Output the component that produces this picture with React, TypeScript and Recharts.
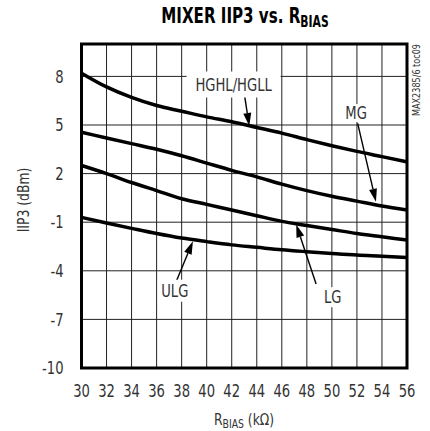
import React from 'react';
import { LineChart, Line, XAxis, YAxis, CartesianGrid, ReferenceArea, ReferenceDot, ReferenceLine } from 'recharts';

const rBias = [30, 32, 34, 36, 38, 40, 42, 44, 46, 48, 50, 52, 54, 56];
const hghlHgll = [8.2, 7.35, 6.7, 6.2, 5.85, 5.5, 5.2, 4.85, 4.5, 4.1, 3.72, 3.37, 3.05, 2.72];
const mg = [4.55, 4.2, 3.85, 3.5, 3.1, 2.65, 2.2, 1.8, 1.35, 0.95, 0.6, 0.3, 0.0, -0.25];
const lg = [2.5, 2.0, 1.45, 0.95, 0.45, 0.1, -0.25, -0.6, -0.95, -1.2, -1.45, -1.7, -1.9, -2.1];
const ulg = [-0.7, -1.05, -1.38, -1.7, -1.98, -2.2, -2.4, -2.55, -2.7, -2.82, -2.93, -3.03, -3.1, -3.18];

const xTicks = [30, 32, 34, 36, 38, 40, 42, 44, 46, 48, 50, 52, 54, 56];
const yTicks = [-10, -7, -4, -1, 2, 5, 8];

const labelNames = ['HGHL/HGLL', 'MG', 'LG', 'ULG'];
const labelR = [42.15, 51.93, 50.07, 37.45];
const labelV = [7.5, 5.74, -5.63, -5.23];
const labelBoxW = [94, 30, 24, 34];
const labelBoxH = [26, 18, 20, 22];

const arrowFromR = [43.0, 52.06, 48.74, 37.59];
const arrowFromV = [6.94, 5.1, -4.82, -4.61];
const arrowToR = [43.4, 53.52, 47.15, 38.9];
const arrowToV = [4.94, 0.26, -1.14, -2.17];

const data = rBias.map((r, i) => ({ r, hghl: hghlHgll[i], mg: mg[i], lg: lg[i], ulg: ulg[i] }));

const FONT = '"Liberation Sans Narrow", "DejaVu Sans Condensed", "Arial Narrow", sans-serif';
const SQUEEZE = 0.86;

const makeLabel = (text: string, w: number, h: number) => (props: any) => {
  const { cx, cy } = props;
  return (
    <g>
      <rect x={cx - w / 2} y={cy - h / 2} width={w} height={h} fill="#fff" />
      <g transform={`translate(${cx},${cy}) scale(${SQUEEZE},1)`}>
        <text x={0} y={0} textAnchor="middle" dy="0.36em" fontFamily={FONT} fontSize={17} fill="#333">
          {text}
        </text>
      </g>
    </g>
  );
};

const XTick = (props: any) => {
  const { x, y, payload } = props;
  return (
    <g transform={`translate(${x},${y}) scale(${SQUEEZE},1)`}>
      <text x={0} y={0} dy="0.71em" textAnchor="middle" fontFamily={FONT} fontSize={17} fill="#333">
        {payload.value}
      </text>
    </g>
  );
};

const YTick = (props: any) => {
  const { x, y, payload } = props;
  return (
    <g transform={`translate(${x},${y}) scale(${SQUEEZE},1)`}>
      <text x={0} y={0} dy="0.36em" textAnchor="end" fontFamily={FONT} fontSize={17} fill="#333">
        {payload.value}
      </text>
    </g>
  );
};

const ArrowShape = (props: any) => {
  const { x1, y1, x2, y2 } = props;
  const dx = x2 - x1;
  const dy = y2 - y1;
  const len = Math.hypot(dx, dy) || 1;
  const ux = dx / len;
  const uy = dy / len;
  const hl = 13;
  const hw = 4;
  const bx = x2 - ux * hl;
  const by = y2 - uy * hl;
  return (
    <g>
      <line x1={x1} y1={y1} x2={bx} y2={by} stroke="#000" strokeWidth={1.4} />
      <polygon points={`${x2},${y2} ${bx - uy * hw},${by + ux * hw} ${bx + uy * hw},${by - ux * hw}`} fill="#000" />
    </g>
  );
};

export default function App() {
  return (
    <div style={{ position: 'absolute', left: 0, top: 0, width: 430, height: 431, background: '#fff' }}>
      <LineChart width={430} height={431} data={data} margin={{ top: 44, right: 23, bottom: 33, left: 31.5 }}>
        <CartesianGrid stroke="#222" strokeWidth={1} />
        <XAxis
          dataKey="r"
          type="number"
          domain={[30, 56]}
          ticks={xTicks}
          height={30}
          axisLine={false}
          tickLine={false}
          tickSize={0}
          tickMargin={17}
          interval={0}
          tick={<XTick />}
        />
        <YAxis
          type="number"
          domain={[-10, 10]}
          ticks={yTicks}
          width={50}
          axisLine={false}
          tickLine={false}
          tickSize={0}
          tickMargin={18}
          interval={0}
          tick={<YTick />}
        />
        <ReferenceArea x1={30} x2={56} y1={-10} y2={10} fill="none" stroke="#000" strokeWidth={3} ifOverflow="visible" />
        <Line dataKey="hghl" type="monotone" stroke="#000" strokeWidth={3.5} dot={false} isAnimationActive={false} />
        <Line dataKey="mg" type="monotone" stroke="#000" strokeWidth={3.5} dot={false} isAnimationActive={false} />
        <Line dataKey="lg" type="monotone" stroke="#000" strokeWidth={3.5} dot={false} isAnimationActive={false} />
        <Line dataKey="ulg" type="monotone" stroke="#000" strokeWidth={3.5} dot={false} isAnimationActive={false} />
        {labelNames.map((name, i) => (
          <ReferenceDot key={name} x={labelR[i]} y={labelV[i]} r={1} shape={makeLabel(name, labelBoxW[i], labelBoxH[i])} />
        ))}
        {labelNames.map((name, i) => (
          <ReferenceLine
            key={'a' + name}
            segment={[
              { x: arrowFromR[i], y: arrowFromV[i] },
              { x: arrowToR[i], y: arrowToV[i] },
            ]}
            shape={ArrowShape}
          />
        ))}
      </LineChart>
      <svg width={430} height={431} style={{ position: 'absolute', left: 0, top: 0, pointerEvents: 'none' }}>
        <g transform="translate(245,23) scale(0.8,1)">
          <text x={0} y={0} textAnchor="middle" fontFamily={FONT} fontWeight="bold" fontSize={21} fill="#000">
            MIXER IIP3 vs. R<tspan fontSize={15} dy={4}>BIAS</tspan>
          </text>
        </g>
        <g transform={`translate(29,200) rotate(-90) scale(${SQUEEZE},1)`}>
          <text x={0} y={0} textAnchor="middle" fontFamily={FONT} fontSize={16} fill="#333">
            IIP3 (dBm)
          </text>
        </g>
        <g transform={`translate(244,425) scale(${SQUEEZE},1)`}>
          <text x={0} y={0} textAnchor="middle" fontFamily={FONT} fontSize={16} fill="#333">
            R<tspan fontSize={12} dy={3}>BIAS</tspan>
            <tspan dy={-3}> (kΩ)</tspan>
          </text>
        </g>
        <g transform="translate(420,80) rotate(-90) scale(0.9,1)">
          <text x={0} y={0} textAnchor="middle" fontFamily={FONT} fontSize={10} fill="#333">
            MAX2385/6 toc09
          </text>
        </g>
      </svg>
    </div>
  );
}
